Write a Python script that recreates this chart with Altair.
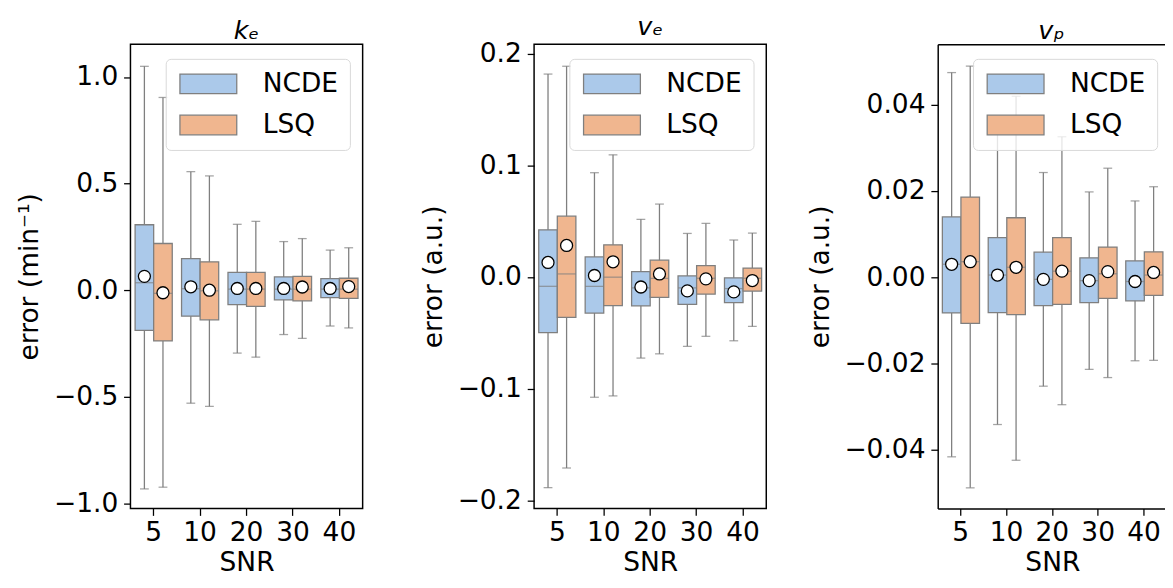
import altair as alt
import pandas as pd

SNR = ["5", "10", "20", "30", "40"]
METHODS = ["NCDE", "LSQ"]

# ---- panel k_e ----
KE_NCDE_HI = [1.05, 0.556, 0.309, 0.228, 0.188]
KE_NCDE_Q3 = [0.307, 0.148, 0.084, 0.062, 0.054]
KE_NCDE_MED = [0.035, 0.007, 0.005, 0.005, 0.005]
KE_NCDE_MEAN = [0.065, 0.016, 0.008, 0.008, 0.008]
KE_NCDE_Q1 = [-0.188, -0.122, -0.068, -0.045, -0.035]
KE_NCDE_LO = [-0.932, -0.53, -0.295, -0.208, -0.168]
KE_LSQ_HI = [0.904, 0.536, 0.323, 0.242, 0.199]
KE_LSQ_Q3 = [0.219, 0.133, 0.084, 0.065, 0.056]
KE_LSQ_MED = [-0.015, -0.003, 0.005, 0.005, 0.005]
KE_LSQ_MEAN = [-0.012, 0.0, 0.008, 0.015, 0.017]
KE_LSQ_Q1 = [-0.238, -0.139, -0.076, -0.05, -0.038]
KE_LSQ_LO = [-0.924, -0.545, -0.314, -0.226, -0.177]

# ---- panel v_e ----
VE_NCDE_HI = [0.182, 0.0936, 0.0518, 0.0392, 0.0333]
VE_NCDE_Q3 = [0.0424, 0.0181, 0.005, 0.0011, -0.0006]
VE_NCDE_MED = [-0.0082, -0.0082, -0.0096, -0.0096, -0.0102]
VE_NCDE_MEAN = [0.0132, 0.0015, -0.0088, -0.0123, -0.0132]
VE_NCDE_Q1 = [-0.0497, -0.0322, -0.0257, -0.0243, -0.0228]
VE_NCDE_LO = [-0.1886, -0.1076, -0.0725, -0.062, -0.057]
VE_LSQ_HI = [0.189, 0.1096, 0.0655, 0.0482, 0.0395]
VE_LSQ_Q3 = [0.0547, 0.029, 0.0152, 0.0103, 0.0082]
VE_LSQ_MED = [0.0029, 0.0, -0.001, -0.001, -0.001]
VE_LSQ_MEAN = [0.0284, 0.0138, 0.0029, -0.0015, -0.003]
VE_LSQ_Q1 = [-0.036, -0.0254, -0.0181, -0.0152, -0.0125]
VE_LSQ_LO = [-0.171, -0.1064, -0.0687, -0.053, -0.0441]

# ---- panel v_p ----
VP_NCDE_HI = [0.0475, 0.034, 0.0243, 0.0198, 0.0177]
VP_NCDE_Q3 = [0.014, 0.0092, 0.0058, 0.0045, 0.0038]
VP_NCDE_MED = [0.003, 0.0005, -0.0005, -0.0008, -0.001]
VP_NCDE_MEAN = [0.003, 0.0005, -0.0005, -0.0008, -0.001]
VP_NCDE_Q1 = [-0.0083, -0.0082, -0.0066, -0.0059, -0.0055]
VP_NCDE_LO = [-0.0417, -0.0342, -0.0253, -0.0214, -0.0194]
VP_LSQ_HI = [0.049, 0.042, 0.0326, 0.0253, 0.021]
VP_LSQ_Q3 = [0.0186, 0.0138, 0.0092, 0.007, 0.0059]
VP_LSQ_MED = [0.0036, 0.0023, 0.0014, 0.0008, 0.0005]
VP_LSQ_MEAN = [0.0036, 0.0023, 0.0014, 0.0013, 0.0011]
VP_LSQ_Q1 = [-0.0107, -0.0087, -0.0063, -0.0049, -0.0042]
VP_LSQ_LO = [-0.0489, -0.0425, -0.0296, -0.0233, -0.0193]

FILL = ["#abc9ea", "#f0b68f"]
EDGE = "#7f7f7f"
FONT = "DejaVu Sans"
FS = 27
W, H = 237, 474


def frame(ncde, lsq):
    rows = []
    for m, stats in (("NCDE", ncde), ("LSQ", lsq)):
        hi, q3, med, mean, q1, lo = stats
        for i, s in enumerate(SNR):
            rows.append(dict(snr=s, method=m, hi=hi[i], q3=q3[i], med=med[i],
                             mean=mean[i], q1=q1[i], lo=lo[i]))
    return pd.DataFrame(rows)


def panel(df, title, ytitle, domain, ticks, fmt, cut=False):
    width = 232 if cut else W
    xscale = alt.Scale(paddingInner=0, paddingOuter=0, range=[0, 234]) if cut else \
        alt.Scale(paddingInner=0, paddingOuter=0)
    xax = alt.Axis(orient="bottom", title="SNR", labelAngle=0, labelFontSize=FS,
                   titleFontSize=FS, labelFont=FONT, titleFont=FONT, titleFontWeight="normal",
                   tickSize=7, tickColor="black", tickWidth=1.3, labelPadding=5,
                   titlePadding=4, domain=cut, domainColor="black", domainWidth=1.5,
                   labelColor="black", titleColor="black")
    x = alt.X("snr:N", sort=SNR, scale=xscale, axis=xax)
    xn = alt.X("snr:N", sort=SNR, scale=xscale, axis=None) if cut else x
    xo = alt.XOffset("method:N", sort=METHODS,
                     scale=alt.Scale(domain=METHODS, paddingInner=0, paddingOuter=0.25))
    ysc = alt.Scale(domain=domain, nice=False, zero=False)
    yax = alt.Axis(title=ytitle, values=ticks, format=fmt, grid=False, domain=cut,
                   domainColor="black", domainWidth=1.5,
                   labelFontSize=FS, titleFontSize=FS, labelFont=FONT, titleFont=FONT,
                   titleFontWeight="normal", tickSize=7, tickColor="black", tickWidth=1.3,
                   labelPadding=6, titlePadding=10, labelColor="black", titleColor="black")
    y = lambda f: alt.Y(f, scale=ysc, axis=yax)
    base = alt.Chart(df)
    whisk = base.mark_rule(color=EDGE, strokeWidth=1.3).encode(
        x=x, xOffset=xo, y=y("lo:Q"), y2="hi:Q")
    box = base.mark_bar(stroke=EDGE, strokeWidth=1.3).encode(
        x=xn, xOffset=xo, y=y("q1:Q"), y2="q3:Q",
        color=alt.Color("method:N", sort=METHODS,
                        scale=alt.Scale(domain=METHODS, range=FILL),
                        legend=alt.Legend(title=None, orient="none", legendX=36, legendY=15,
                                          fillColor="rgba(255,255,255,0.8)",
                                          strokeColor="#d8d8d8", cornerRadius=5, padding=12,
                                          labelFontSize=FS, labelFont=FONT, labelColor="black",
                                          labelOffset=42, rowPadding=14, symbolOffset=18,
                                          symbolType="M-2.9,-1L2.9,-1L2.9,1L-2.9,1Z",
                                          symbolSize=400, symbolStrokeColor=EDGE,
                                          symbolStrokeWidth=1.3, symbolOpacity=1)))
    med = base.mark_tick(color=EDGE, size=19, thickness=1.3).encode(
        x=xn, xOffset=xo, y=y("med:Q"))
    cap_hi = base.mark_tick(color=EDGE, size=9, thickness=1.3).encode(
        x=xn, xOffset=xo, y=y("hi:Q"))
    cap_lo = base.mark_tick(color=EDGE, size=9, thickness=1.3).encode(
        x=xn, xOffset=xo, y=y("lo:Q"))
    mean = base.mark_point(shape="circle", filled=True, fill="white", stroke="black",
                           strokeWidth=1.3, size=150, opacity=1).encode(
        x=xn, xOffset=xo, y=y("mean:Q"))
    layers = [whisk, box, med, cap_hi, cap_lo, mean]
    if cut:
        xtop = alt.X("snr:N", sort=SNR, scale=xscale,
                     axis=alt.Axis(orient="top", title=None, labels=False, ticks=False,
                                   domain=True, domainColor="black", domainWidth=1.5))
        top = base.mark_tick(opacity=0).encode(x=xtop, y=y("hi:Q"))
        layers.append(top)
    layer = alt.layer(*layers).properties(
        width=width, height=H,
        title=alt.TitleParams(text=title, fontSize=26, font=FONT, fontStyle="italic",
                              fontWeight="normal", offset=0, color="black"))
    if cut:
        layer = layer.resolve_axis(x="independent").properties(
            view=alt.ViewBackground(stroke="transparent"))
    return layer


ke = frame((KE_NCDE_HI, KE_NCDE_Q3, KE_NCDE_MED, KE_NCDE_MEAN, KE_NCDE_Q1, KE_NCDE_LO),
           (KE_LSQ_HI, KE_LSQ_Q3, KE_LSQ_MED, KE_LSQ_MEAN, KE_LSQ_Q1, KE_LSQ_LO))
ve = frame((VE_NCDE_HI, VE_NCDE_Q3, VE_NCDE_MED, VE_NCDE_MEAN, VE_NCDE_Q1, VE_NCDE_LO),
           (VE_LSQ_HI, VE_LSQ_Q3, VE_LSQ_MED, VE_LSQ_MEAN, VE_LSQ_Q1, VE_LSQ_LO))
vp = frame((VP_NCDE_HI, VP_NCDE_Q3, VP_NCDE_MED, VP_NCDE_MEAN, VP_NCDE_Q1, VP_NCDE_LO),
           (VP_LSQ_HI, VP_LSQ_Q3, VP_LSQ_MED, VP_LSQ_MEAN, VP_LSQ_Q1, VP_LSQ_LO))

p1 = panel(ke, "kₑ", "error (min⁻¹)", [-1.024, 1.154], [-1.0, -0.5, 0.0, 0.5, 1.0], ".1f")
p2 = panel(ve, "vₑ", "error (a.u.)", [-0.2073, 0.2088], [-0.2, -0.1, 0.0, 0.1, 0.2], ".1f")
p3 = panel(vp, "vₚ", "error (a.u.)", [-0.0537, 0.0541], [-0.04, -0.02, 0.0, 0.02, 0.04], ".2f",
           cut=True)

chart = alt.hconcat(p1, p2, p3, spacing=175, bounds="flush").resolve_scale(
    color="independent", y="independent").resolve_legend(color="independent").properties(
    padding={"left": 7, "top": 0, "right": -3, "bottom": -5}, background="white"
).configure_view(stroke="black", strokeWidth=1.5)

chart.save("out.html", embed_options={"renderer": "svg", "actions": False})
